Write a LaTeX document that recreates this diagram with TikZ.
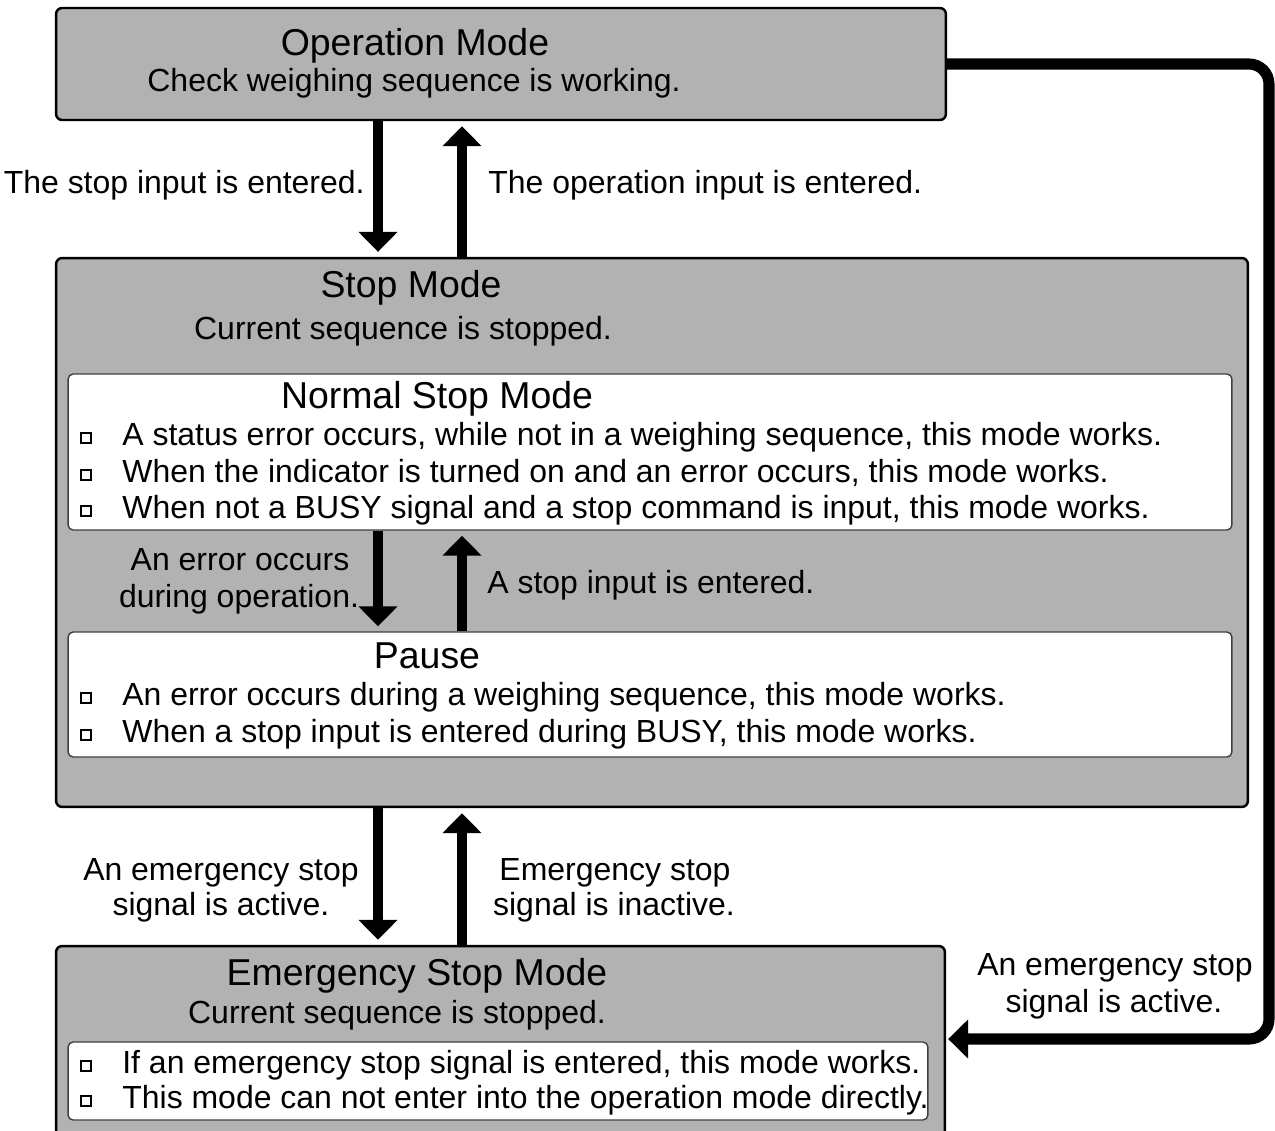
\documentclass[tikz,border=0pt]{standalone}
\usepackage{fontspec}
\setmainfont{Liberation Sans}
\usetikzlibrary{arrows.meta,shadows}
\definecolor{modegray}{rgb}{0.7, 0.7, 0.7}
\tikzstyle{mode}=[rectangle, draw, line width=1.4pt, fill=modegray, rounded corners=0.12cm, inner sep=0pt]
\tikzstyle{sub}=[rectangle, draw=black!75, line width=0.8pt, fill=white, rounded corners=0.1cm, inner sep=0pt]
\tikzstyle{ttl}=[anchor=base, inner sep=0pt, font=\fontsize{21.3}{25}\selectfont]
\tikzstyle{txt}=[anchor=base, inner sep=0pt, font=\fontsize{18.2}{21.6}\selectfont]
\tikzstyle{item}=[txt, anchor=base west]
\tikzstyle{bul}=[rectangle, draw, fill=white, line width=1pt, minimum size=0.2cm, inner sep=0pt,
  drop shadow={shadow xshift=0.7pt, shadow yshift=-0.7pt, fill=black, opacity=1}]
\tikzstyle{trans}=[line width=5.7pt, -{Triangle[width=0.76cm,length=0.4cm]}, shorten >=0.1cm]
\begin{document}
\begin{tikzpicture}[x=0.02cm, y=-0.02cm]
	\useasboundingbox (0,0) rectangle (1275,1130);
	\clip (0,0) rectangle (1275,1130);
	% boxes
	\node[mode, minimum width=17.8cm, minimum height=2.24cm] (op) at (501,64) {};
	\node[mode, minimum width=23.84cm, minimum height=10.98cm] (stop) at (652,532.5) {};
	\node[sub, minimum width=23.28cm, minimum height=3.12cm] (normal) at (650,452) {};
	\node[sub, minimum width=23.28cm, minimum height=2.5cm] (pause) at (650,694.5) {};
	\node[mode, minimum width=17.78cm, minimum height=3.88cm] (emerg) at (500.5,1043) {};
	\node[sub, minimum width=17.2cm, minimum height=1.56cm] (einner) at (498,1081) {};
	% titles
	\node[ttl] (optitle) at (415,55) {Operation Mode};
	\node[txt] (opsub) at (414,91) {Check weighing sequence is working.};
	\node[ttl] (stoptitle) at (411,297) {Stop Mode};
	\node[txt] (stopsub) at (403,339) {Current sequence is stopped.};
	\node[ttl] (normaltitle) at (437,408) {Normal Stop Mode};
	\node[ttl] (pausetitle) at (427,668) {Pause};
	\node[ttl] (emergtitle) at (417,985) {Emergency Stop Mode};
	\node[txt] (emergsub) at (397,1023) {Current sequence is stopped.};
	% bullet lists
	\foreach \y/\t [count=\i] in {445/{A status error occurs, while not in a weighing sequence, this mode works.},
		482/{When the indicator is turned on and an error occurs, this mode works.},
		518/{When not a BUSY signal and a stop command is input, this mode works.},
		705/{An error occurs during a weighing sequence, this mode works.},
		742/{When a stop input is entered during BUSY, this mode works.},
		1073/{If an emergency stop signal is entered, this mode works.},
		1108/{This mode can not enter into the operation mode directly.}}{
		\node[bul] (b\i) at (86,\y-7) {};
		\node[item] (t\i) at (122,\y) {\t};
	}
	% transitions
	\coordinate (dn) at (378,0);
	\coordinate (up) at (462,0);
	\draw[trans] (op.south -| dn) -- (stop.north -| dn);
	\draw[trans] (stop.north -| up) -- (op.south -| up);
	\draw[trans] (normal.south -| dn) -- (pause.north -| dn);
	\draw[trans] (pause.north -| up) -- (normal.south -| up);
	\draw[trans] (stop.south -| dn) -- (emerg.north -| dn);
	\draw[trans] (emerg.north -| up) -- (stop.south -| up);
	\coordinate (rtop) at (1269,64);
	\coordinate (rbot) at (1269,1039);
	\draw[trans, line width=6.3pt, shorten >=0.04cm, rounded corners=0.4cm] (op.east) -- (rtop) -- (rbot) -- (emerg.east |- rbot);
	% labels
	\node[txt, anchor=base east] (l1) at (365,193) {The stop input is entered.};
	\node[txt, anchor=base west] (l2) at (488,193) {The operation input is entered.};
	\node[txt] (l3) at (240,570) {An error occurs};
	\node[txt] (l3b) at (239,607) {during operation.};
	\node[txt, anchor=base west] (l4) at (487,593) {A stop input is entered.};
	\node[txt] (l5) at (221,880) {An emergency stop};
	\node[txt] (l5b) at (221,915) {signal is active.};
	\node[txt] (l6) at (615,880) {Emergency stop};
	\node[txt] (l6b) at (614,915) {signal is inactive.};
	\node[txt] (l7) at (1115,975) {An emergency stop};
	\node[txt] (l7b) at (1114,1012) {signal is active.};
\end{tikzpicture}
\end{document}
